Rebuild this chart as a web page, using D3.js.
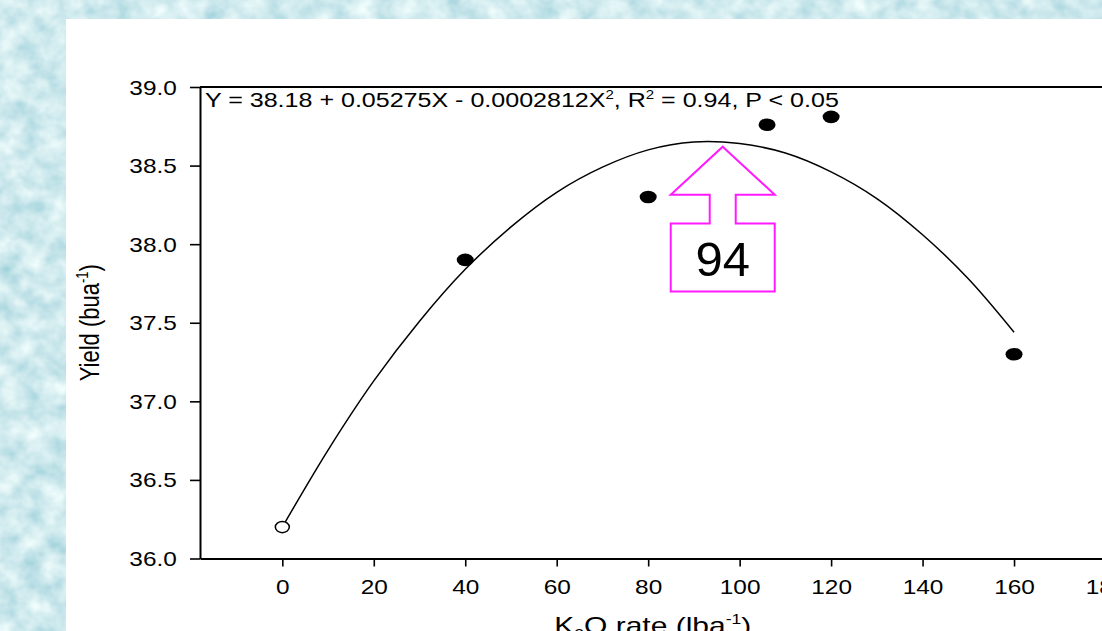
<!DOCTYPE html>
<html>
<head>
<meta charset="utf-8">
<script src="https://cdn.jsdelivr.net/npm/d3@7"></script>
<style>
  body { margin: 0; overflow: hidden; background: #fff; }
  text { font-family: "Liberation Sans", Arial, sans-serif; fill: #000; }
</style>
</head>
<body>
<svg id="chart"></svg>
<script>
// measured points
const kRate = [0, 40, 80, 106, 120, 160];
const yieldBu = [36.2, 37.9, 38.3, 38.76, 38.81, 37.3];
const isControl = [true, false, false, false, false, false];

// fitted curve
const fitRate = [0, 10, 20, 30, 40, 50, 60, 70, 80, 90, 100, 110, 120, 130, 140, 150, 160];
const fitYield = [36.2, 36.69, 37.13, 37.51, 37.84, 38.11, 38.33, 38.49, 38.6, 38.65, 38.64, 38.58, 38.46, 38.29, 38.06, 37.78, 37.44];

const xTicks = [0, 20, 40, 60, 80, 100, 120, 140, 160, 180];
const yTicks = [36.0, 36.5, 37.0, 37.5, 38.0, 38.5, 39.0];

// arrow callout
const calloutRate = 96.3;
const calloutYield = 38.62;
const calloutLabel = "94";

const w = 1102;
const h = 631;
const stretch = 1.22; // the text in the source is wide

const svg = d3.select("#chart").attr("width", w).attr("height", h);

// watery backdrop
const defs = svg.append("defs");
const filt = defs.append("filter").attr("id", "water")
  .attr("x", 0).attr("y", 0).attr("width", 1).attr("height", 1);
filt.append("feTurbulence")
  .attr("type", "fractalNoise")
  .attr("baseFrequency", "0.045 0.05")
  .attr("numOctaves", 3)
  .attr("seed", 7);
filt.append("feColorMatrix")
  .attr("type", "matrix")
  .attr("values", "0.7 0 0 0 0.28  0.45 0 0 0 0.6  0.35 0 0 0 0.68  0 0 0 0 1");
svg.append("rect").attr("width", w).attr("height", h).attr("fill", "#a6dbe4");
svg.append("rect").attr("width", w).attr("height", h).attr("filter", "url(#water)");
svg.append("rect").attr("x", 66).attr("y", 19).attr("width", w - 66).attr("height", h - 19).attr("fill", "#fff");

const xScale = d3.scaleLinear().domain([-18, 180]).range([200, 1105.5]);
const yScale = d3.scaleLinear().domain([36, 39]).range([558.5, 87]);

// fitted line
const line = d3.line()
  .x((d, i) => xScale(fitRate[i]))
  .y((d) => yScale(d))
  .curve(d3.curveCatmullRom);

svg.append("path")
  .datum(fitYield)
  .attr("d", line)
  .attr("fill", "none")
  .attr("stroke", "#000")
  .attr("stroke-width", 1.5);

// points
svg.selectAll(".pt")
  .data(kRate)
  .enter()
  .append("ellipse")
  .attr("class", "pt")
  .attr("cx", (d) => xScale(d))
  .attr("cy", (d, i) => yScale(yieldBu[i]))
  .attr("rx", (d, i) => (isControl[i] ? 7 : 8.5))
  .attr("ry", (d, i) => (isControl[i] ? 5.6 : 6.3))
  .attr("fill", (d, i) => (isControl[i] ? "#fff" : "#000"))
  .attr("stroke", "#000")
  .attr("stroke-width", (d, i) => (isControl[i] ? 1.5 : 0));

// callout arrow
const tx = xScale(calloutRate);
const ty = yScale(calloutYield);
const shape = [
  [0, 0], [52, 48], [13, 48], [13, 76.7], [52, 76.7], [52, 144.7],
  [-52, 144.7], [-52, 76.7], [-13, 76.7], [-13, 48], [-52, 48]
];
svg.append("polygon")
  .attr("points", shape.map((p) => [tx + p[0], ty + p[1]].join(",")).join(" "))
  .attr("fill", "#fff")
  .attr("stroke", "#ff1aff")
  .attr("stroke-width", 2);
svg.append("text")
  .attr("x", tx)
  .attr("y", ty + 129)
  .attr("text-anchor", "middle")
  .style("font-size", "49px")
  .text(calloutLabel);

// axes
const xAxis = d3.axisBottom(xScale).tickValues(xTicks).tickSize(8).tickSizeOuter(0).tickPadding(13);
const yAxis = d3.axisLeft(yScale).tickValues(yTicks).tickSize(10).tickSizeOuter(0).tickFormat(d3.format(".1f"));

const gx = svg.append("g").attr("transform", "translate(0, 558.5)").call(xAxis);
const gy = svg.append("g").attr("transform", "translate(200, 0)").call(yAxis);

[gx, gy].forEach((g) => {
  g.select(".domain").attr("stroke-width", 2);
  g.selectAll(".tick line").attr("stroke-width", 1.6);
  g.selectAll(".tick text").style("font-size", "20px").attr("fill", "#000");
});
gx.selectAll(".tick text").attr("transform", `scale(${stretch},1)`);
gy.selectAll(".tick text").attr("x", -19).attr("dy", "0.35em").attr("transform", `scale(${stretch},1)`);

// top frame line
svg.append("line")
  .attr("x1", xScale(-18)).attr("x2", xScale(180))
  .attr("y1", yScale(39)).attr("y2", yScale(39))
  .attr("stroke", "#000").attr("stroke-width", 2);

// equation
const eq = svg.append("text")
  .attr("transform", "translate(205, 107) scale(1.252,1)")
  .style("font-size", "20px");
eq.append("tspan").text("Y = 38.18 + 0.05275X - 0.0002812X");
eq.append("tspan").attr("dy", -8).style("font-size", "12px").text("2");
eq.append("tspan").attr("dy", 8).text(", R");
eq.append("tspan").attr("dy", -8).style("font-size", "12px").text("2");
eq.append("tspan").attr("dy", 8).text(" = 0.94, P < 0.05");

// axis titles
const yt = svg.append("text")
  .attr("transform", `translate(99, ${(87 + 558.5) / 2}) scale(${stretch},1) rotate(-90)`)
  .attr("text-anchor", "middle")
  .style("font-size", "22px");
yt.append("tspan").text("Yield (bua");
yt.append("tspan").attr("dy", -9).style("font-size", "13px").text("-1");
yt.append("tspan").attr("dy", 9).text(")");

const xt = svg.append("text")
  .attr("transform", `translate(${(200 + 1105.5) / 2}, 634) scale(1.25,1)`)
  .attr("text-anchor", "middle")
  .style("font-size", "24px");
xt.append("tspan").text("K");
xt.append("tspan").attr("dy", 5).style("font-size", "14px").text("2");
xt.append("tspan").attr("dy", -5).text("O rate (lba");
xt.append("tspan").attr("dy", -10).style("font-size", "14px").text("-1");
xt.append("tspan").attr("dy", 10).text(")");
</script>
</body>
</html>
